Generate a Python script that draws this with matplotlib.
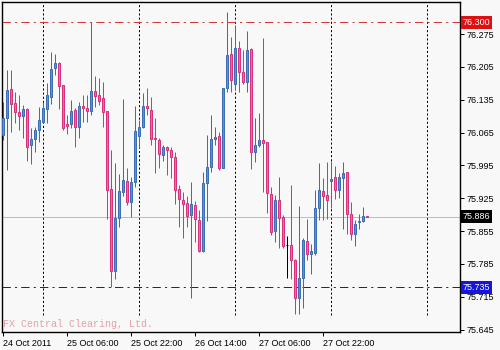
import matplotlib
matplotlib.use("Agg")
import matplotlib.pyplot as plt
import matplotlib.transforms as mtransforms
import numpy as np

# ---- data (hourly bars from 24 Oct 2011 14:00) ----
opens = [76.0598, 76.0954, 76.1579, 76.1273, 76.1082, 76.1010, 76.1153, 76.0385, 76.0506, 76.0705,
         76.0883, 76.1153, 76.1416, 76.2020, 76.2126, 76.1664, 76.0826, 76.0826, 76.1124, 76.0776,
         76.1224, 76.1181, 76.1110, 76.1536, 76.1451, 76.1380, 76.1110, 75.9447, 75.7706, 75.8822,
         75.9390, 75.9625, 75.9163, 75.9589, 76.0584, 76.0776, 76.1224, 76.1124, 76.0527, 76.0492,
         76.0172, 76.0350, 76.0278, 76.0136, 75.9447, 75.9212, 75.9141, 75.8893, 75.9106, 75.8786,
         75.8132, 75.9568, 75.9909, 76.0506, 76.0577, 75.9902, 76.1593, 76.2318, 76.1679, 76.2446,
         76.1949, 76.1721, 76.2432, 76.0243, 76.0385, 76.0492, 76.0456, 75.9333, 75.8551, 75.9212,
         75.8857, 75.8253, 75.8253, 75.7933, 75.7116, 75.7542, 75.8338, 75.8054, 75.8075, 75.9035,
         75.9404, 75.9319, 75.9618, 75.9710, 75.9426, 75.9689, 75.9802, 75.8907, 75.8480, 75.8736,
         75.8765, 75.8865]
highs = [76.1309, 76.1984, 76.1984, 76.1508, 76.1451, 76.1238, 76.1181, 76.0740, 76.0762, 76.1202,
         76.1309, 76.1700, 76.2375, 76.2318, 76.2148, 76.1664, 76.1025, 76.1345, 76.1167, 76.1309,
         76.1451, 76.1451, 76.3015, 76.1863, 76.1821, 76.1735, 76.1110, 76.0278, 75.9994, 75.9760,
         76.1366, 75.9888, 75.9710, 76.1224, 76.0918, 76.1487, 76.1593, 76.1416, 76.0954, 76.0527,
         76.0385, 76.0371, 76.0350, 76.0243, 75.9532, 75.9390, 75.9305, 75.9603, 75.9191, 75.8999,
         75.9816, 76.0598, 76.1025, 76.0776, 76.0669, 76.1607, 76.3228, 76.2695, 76.2944, 76.2602,
         76.2411, 76.2816, 76.2446, 76.0954, 76.1060, 76.2674, 76.0456, 75.9497, 75.9319, 75.9710,
         75.8893, 75.8452, 75.9532, 75.7954, 75.9084, 75.8395, 75.8807, 75.8267, 75.9426, 75.9994,
         75.9674, 76.0030, 76.0044, 75.9944, 75.9781, 76.0030, 75.9816, 75.9177, 75.8786, 75.8907,
         75.9070, 75.8870]
lows = [76.0492, 75.9852, 76.0655, 76.0847, 76.0705, 76.0527, 76.0044, 75.9973, 76.0243, 76.0456,
        76.0847, 76.0847, 76.1252, 76.1878, 76.1153, 76.0705, 76.0612, 76.0740, 76.0350, 76.0527,
        76.0883, 76.0883, 76.1025, 76.1202, 76.1238, 76.0776, 75.8807, 75.7365, 75.7528, 75.8644,
        75.9305, 75.9106, 75.8857, 75.9497, 76.0314, 76.0755, 76.1025, 76.0385, 75.9781, 75.9888,
        76.0044, 75.9745, 75.9674, 75.9120, 75.8644, 75.8395, 75.8644, 75.7116, 75.8310, 75.8111,
        75.8111, 75.8765, 75.9816, 76.0385, 75.9852, 75.9888, 76.1522, 76.1508, 76.1558, 76.1522,
        76.1679, 76.1522, 75.9873, 76.0030, 76.0350, 75.9390, 75.8928, 75.8466, 75.8310, 75.8182,
        75.8182, 75.7542, 75.7528, 75.6775, 75.6775, 75.6917, 75.7933, 75.7628, 75.8040, 75.8786,
        75.8786, 75.8807, 75.9035, 75.9227, 75.9248, 75.8594, 75.8480, 75.8360, 75.8239, 75.8594,
        75.8736, 75.8850]
closes = [76.0954, 76.1558, 76.1252, 76.1082, 76.1010, 76.1153, 76.0350, 76.0513, 76.0705, 76.0918,
          76.1167, 76.1451, 76.2005, 76.2126, 76.1650, 76.0740, 76.0797, 76.1110, 76.0776, 76.1217,
          76.1167, 76.1110, 76.1536, 76.1437, 76.1323, 76.1096, 75.9426, 75.7706, 75.8822, 75.9404,
          75.9639, 75.9163, 75.9589, 76.0684, 76.0776, 76.1224, 76.1167, 76.0506, 76.0506, 76.0186,
          76.0350, 76.0278, 76.0136, 75.9426, 75.9227, 75.9120, 75.8878, 75.9120, 75.8800, 75.8125,
          75.9568, 75.9909, 76.0506, 76.0549, 75.9888, 76.1593, 76.2304, 76.1771, 76.2446, 76.1949,
          76.1721, 76.2411, 76.0243, 76.0385, 76.0492, 76.0421, 75.9355, 75.8523, 75.9212, 75.8836,
          75.8239, 75.8253, 75.7933, 75.7116, 75.7542, 75.8360, 75.8054, 75.8125, 75.9049, 75.9426,
          75.9305, 75.9212, 75.9660, 75.9426, 75.9710, 75.9795, 75.8907, 75.8480, 75.8708, 75.8765,
          75.8878, 75.8860]

ytick_values = [76.275, 76.205, 76.135, 76.065, 75.995, 75.925, 75.855, 75.785, 75.715, 75.645]
xtick_bars = [0, 16, 32, 48, 64, 80]
xtick_labels = ["24 Oct 2011", "25 Oct 06:00", "25 Oct 22:00", "26 Oct 14:00",
                "27 Oct 06:00", "27 Oct 22:00"]
separator_bars = [10, 34, 58, 82, 106]
high_level = 76.300
low_level = 75.735
bid_level = 75.886
watermark = "FX Central Clearing, Ltd."

# ---- style ----
plt.rcParams['lines.scale_dashes'] = False
plt.rcParams['font.family'] = ['Liberation Sans', 'DejaVu Sans']
BG = '#f8f8f8'
UP_FACE, UP_EDGE = '#5a92d2', '#3b6eb4'
DN_FACE, DN_EDGE = '#ec6aa2', '#d8327c'
DOJI = '#000000'
PX = 0.72  # one pixel in points

fig = plt.figure(figsize=(5, 3.5), dpi=100, facecolor=BG)
ax = fig.add_axes([2 / 500, 18 / 350, 458 / 500, 330 / 350])
ax.set_facecolor(BG)

o = np.array(opens); h = np.array(highs); l = np.array(lows); c = np.array(closes)
idx = np.arange(len(o))
edge = np.where(c > o, UP_EDGE, np.where(c < o, DN_EDGE, DOJI))
face = np.where(c > o, UP_FACE, np.where(c < o, DN_FACE, DOJI))

# separators
for s in separator_bars:
    ax.axvline(s, ymin=0.052, ymax=1.0, color='black', lw=PX,
               linestyle=(0, (1.5, 1.5)), zorder=1)

# level lines
ax.axhline(high_level, color='#d03a3a', lw=PX, linestyle=(0, (6, 3, 1.5, 3)), zorder=1)
ax.axhline(low_level, color='#20208a', lw=PX, linestyle=(0, (6, 3, 1.5, 3)), zorder=1)
ax.axhline(bid_level, color='#bdbdbd', lw=PX, zorder=1)

# candles
ax.vlines(idx, l, h, colors=edge, lw=PX, zorder=2)
body_h = c - o
ax.bar(idx, body_h, bottom=o, width=0.5, color=face, edgecolor=edge,
       linewidth=PX, zorder=3)

ax.set_xlim(-0.25, 114.25)
ax.set_ylim(75.6398, 76.3434)

# axes styling
for sp in ax.spines.values():
    sp.set_color('black')
    sp.set_linewidth(PX * 1.4)
ax.yaxis.tick_right()
ax.set_yticks(ytick_values)
ax.set_yticklabels([f"{v:.3f}" for v in ytick_values])
ax.set_xticks(xtick_bars)
ax.set_xticklabels(xtick_labels, ha='left')
ax.tick_params(axis='both', direction='out', length=3, width=PX, colors='black',
               labelsize=6.5, pad=1.5)
ax.tick_params(axis='x', pad=2)

# price boxes on the right
trans = mtransforms.blended_transform_factory(ax.transAxes, ax.transData)
for val, col in [(high_level, '#dd1111'), (low_level, '#1515dd'), (bid_level, '#000000')]:
    ax.text(1.006, val, f"{val:.3f}", transform=trans, ha='left', va='center',
            fontsize=6.5, color='white', zorder=5, clip_on=False,
            bbox=dict(boxstyle='square,pad=0.2', facecolor=col, edgecolor='none'))

# watermark
ax.text(0.003, 0.025, watermark, transform=ax.transAxes, ha='left', va='center',
        fontsize=7.2, family=['Liberation Mono', 'DejaVu Sans Mono'], color='#e8a0a8')

fig.savefig('out.png', dpi=100, facecolor=BG)
